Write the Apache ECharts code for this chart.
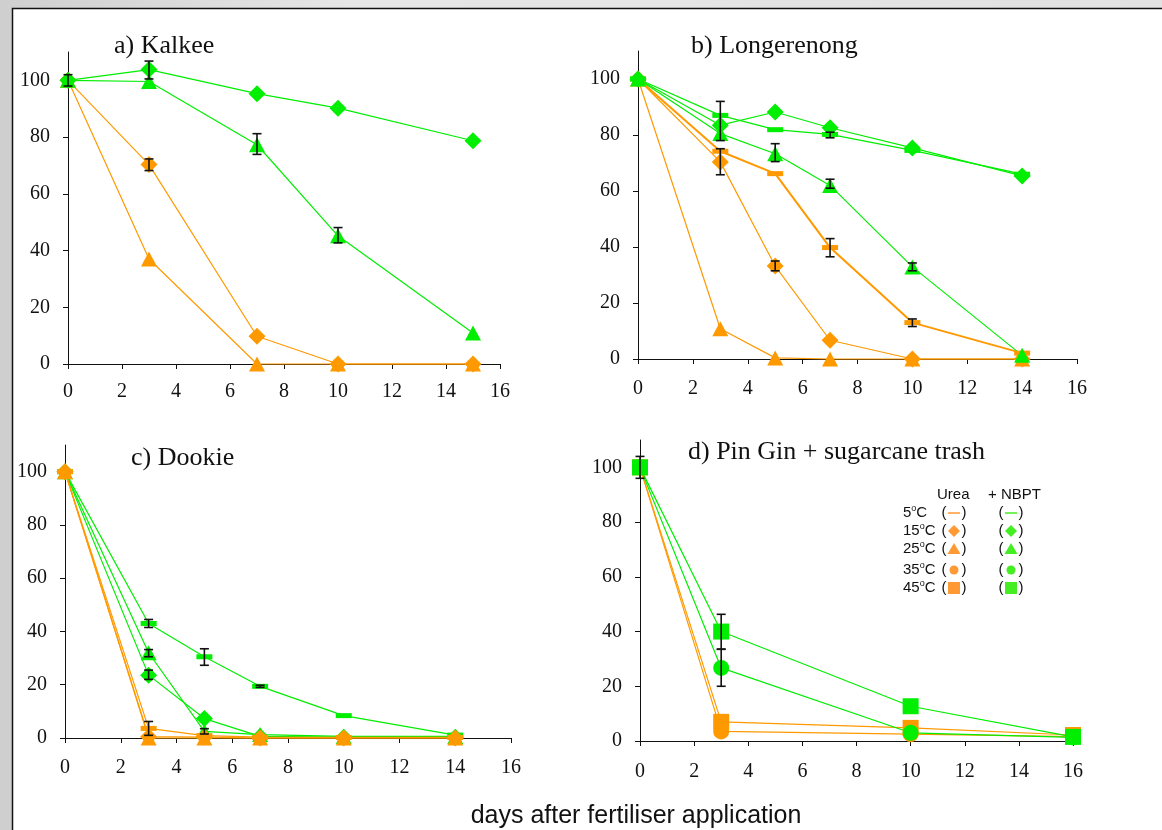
<!DOCTYPE html>
<html>
<head>
<meta charset="utf-8">
<script src="https://cdn.jsdelivr.net/npm/echarts@6/dist/echarts.min.js"></script>
<style>html,body{margin:0;padding:0;background:#ddd;}#c{width:1162px;height:830px;}</style>
</head>
<body>
<div id="c"></div>
<script>
// ---------- data ----------
const xTicks = [0, 2, 4, 6, 8, 10, 12, 14, 16];
const yTicks = [0, 20, 40, 60, 80, 100];

const panelTitles = ['a) Kalkee', 'b) Longerenong', 'c) Dookie', 'd) Pin Gin + sugarcane trash'];
const xAxisTitle = 'days after fertiliser application';

// a) Kalkee
const kalkeeDays = [0, 3, 7, 10, 15];
const kalkeeUrea15 = [100, 70.3, 9.8, 0, 0];
const kalkeeUrea25 = [100, 37, 0, 0, 0];
const kalkeeNbpt15 = [100, 103.8, 95.3, 90.2, 78.7];
const kalkeeNbpt25 = [100, 99.6, 77.3, 45.2, 10.9];
const kalkeeErrors = [[0, 98, 102], [3, 100.5, 106.8], [3, 68.2, 72.3], [7, 73.9, 81.2], [10, 42.7, 48.1]];

// b) Longerenong
const longDays = [0, 3, 5, 7, 10, 14];
const longUrea5 = [100, 74.2, 66.2, 39.8, 13, 2.1];
const longUrea15 = [100, 70.4, 33.2, 6.7, 0, 0];
const longUrea25 = [100, 10.8, 0.4, 0, 0, 0];
const longNbpt5 = [100, 87, 81.9, 80.2, 74.5, 66];
const longNbpt15 = [100, 83.5, 88.2, 82.6, 75.4, 65.4];
const longNbpt25 = [100, 80.5, 73.3, 62, 32.9, 1.3];
const longErrors = [[3, 78, 92], [3, 65.8, 75.1], [5, 70.5, 76.9], [5, 31.5, 35], [7, 79, 81], [7, 61, 64.2], [7, 36.5, 43], [10, 31.5, 34.3], [10, 11.6, 14.3]];

// c) Dookie
const dookieDays = [0, 3, 5, 7, 10, 14];
const dookieUrea5 = [100, 3.6, 0.9, 0.3, 0.2, 0.2];
const dookieUrea15 = [100, 0.5, 0.3, 0, 0, 0];
const dookieUrea25 = [100, 0, 0, 0, 0, 0];
const dookieNbpt5 = [100, 43, 30.5, 19.4, 8.4, 1.1];
const dookieNbpt15 = [100, 23.6, 7.3, 0.6, 0.3, 0.3];
const dookieNbpt25 = [100, 32, 2.5, 1.3, 0.6, 0.6];
const dookieErrors = [[3, 41.5, 44.5], [3, 30.5, 33.2], [3, 22, 25.5], [3, 1, 6.2], [5, 27.3, 33.5], [5, 1.5, 3.5], [7, 19, 19.8]];

// d) Pin Gin + sugarcane trash
const pinDays = [0, 3, 10, 16];
const pinUrea35 = [100, 3.5, 2.5, 1.6];
const pinUrea45 = [100, 7, 4.8, 2.2];
const pinNbpt35 = [100, 26.7, 3, 1.3];
const pinNbpt45 = [100, 40, 12.7, 1.5];
const pinErrors = [[0, 96, 104], [3, 33.6, 46.3], [3, 20, 33.5]];

// legend
const legendHeaders = ['Urea', '+ NBPT'];
const legendTemps = ['5', '15', '25', '35', '45'];
const legendSymbols = ['line', 'diamond', 'triangle', 'circle', 'square'];

// ---------- styling ----------
const ORANGE = '#ff9900';
const GREEN = '#00ee00';
const ORANGE_L = '#ff9933';
const GREEN_L = '#44ee22';
const SERIF = '"Liberation Serif", "Times New Roman", serif';
const SANS = '"Liberation Sans", Arial, sans-serif';

const grids = [
  { left: 68, top: 52, width: 432, height: 312 },
  { left: 638, top: 51, width: 439, height: 308 },
  { left: 65, top: 445, width: 446, height: 293 },
  { left: 640, top: 440, width: 433, height: 301 }
];
const xLabelMargins = [18, 20, 20, 21];

const symbolDefs = {
  dash: { symbol: 'rect', size: [16, 5] },
  diamond: { symbol: 'diamond', size: [17, 17] },
  triangle: { symbol: 'triangle', size: [16, 15] },
  circle: { symbol: 'circle', size: 16 },
  square: { symbol: 'rect', size: 16 }
};

function lineSeries(g, days, values, color, sym, width) {
  const s = symbolDefs[sym];
  return {
    type: 'line', xAxisIndex: g, yAxisIndex: g,
    data: days.map((d, i) => [d, values[i]]),
    symbol: s.symbol, symbolSize: s.size, showSymbol: true,
    lineStyle: { color: color, width: width || 1.2 },
    itemStyle: { color: color },
    clip: false, animation: false, z: 3,
    emphasis: { disabled: true }
  };
}

function errorSeries(g, errs) {
  return {
    type: 'custom', xAxisIndex: g, yAxisIndex: g,
    data: errs, encode: { x: 0, y: [1, 2] }, z: 4, animation: false, clip: false,
    renderItem: function (params, api) {
      const x = api.value(0), lo = api.value(1), hi = api.value(2);
      const pLo = api.coord([x, lo]), pHi = api.coord([x, hi]);
      const w = 4.5;
      const st = { stroke: '#111', lineWidth: 1.6 };
      return {
        type: 'group', children: [
          { type: 'line', shape: { x1: pLo[0], y1: pLo[1], x2: pHi[0], y2: pHi[1] }, style: st },
          { type: 'line', shape: { x1: pLo[0] - w, y1: pLo[1], x2: pLo[0] + w, y2: pLo[1] }, style: st },
          { type: 'line', shape: { x1: pHi[0] - w, y1: pHi[1], x2: pHi[0] + w, y2: pHi[1] }, style: st }
        ]
      };
    }
  };
}

const series = [
  lineSeries(0, kalkeeDays, kalkeeUrea25, ORANGE, 'triangle'),
  lineSeries(0, kalkeeDays, kalkeeUrea15, ORANGE, 'diamond'),
  lineSeries(0, kalkeeDays, kalkeeNbpt25, GREEN, 'triangle'),
  lineSeries(0, kalkeeDays, kalkeeNbpt15, GREEN, 'diamond'),
  errorSeries(0, kalkeeErrors),

  lineSeries(1, longDays, longUrea25, ORANGE, 'triangle'),
  lineSeries(1, longDays, longUrea15, ORANGE, 'diamond'),
  lineSeries(1, longDays, longUrea5, ORANGE, 'dash', 2),
  lineSeries(1, longDays, longNbpt25, GREEN, 'triangle'),
  lineSeries(1, longDays, longNbpt5, GREEN, 'dash'),
  lineSeries(1, longDays, longNbpt15, GREEN, 'diamond'),
  errorSeries(1, longErrors),

  lineSeries(2, dookieDays, dookieNbpt25, GREEN, 'triangle'),
  lineSeries(2, dookieDays, dookieNbpt15, GREEN, 'diamond'),
  lineSeries(2, dookieDays, dookieNbpt5, GREEN, 'dash'),
  lineSeries(2, dookieDays, dookieUrea15, ORANGE, 'diamond'),
  lineSeries(2, dookieDays, dookieUrea25, ORANGE, 'triangle'),
  lineSeries(2, dookieDays, dookieUrea5, ORANGE, 'dash'),
  errorSeries(2, dookieErrors),

  lineSeries(3, pinDays, pinUrea35, ORANGE, 'circle'),
  lineSeries(3, pinDays, pinUrea45, ORANGE, 'square'),
  lineSeries(3, pinDays, pinNbpt35, GREEN, 'circle'),
  lineSeries(3, pinDays, pinNbpt45, GREEN, 'square'),
  errorSeries(3, pinErrors)
];

const xAxes = grids.map((g, i) => ({
  type: 'value', gridIndex: i, min: 0, max: 16, interval: 2,
  axisLine: { show: true, onZero: false, lineStyle: { color: '#111', width: 1 } },
  axisTick: { show: true, length: 5, lineStyle: { color: '#111' }, customValues: xTicks },
  axisLabel: { fontFamily: SERIF, fontSize: 20, color: '#111', margin: xLabelMargins[i], customValues: xTicks },
  splitLine: { show: false }
}));
const yAxes = grids.map((g, i) => ({
  type: 'value', gridIndex: i, min: 0, max: 110, interval: 10,
  axisLine: { show: true, onZero: false, lineStyle: { color: '#111', width: 1 } },
  axisTick: { show: true, length: 5, lineStyle: { color: '#111' }, customValues: yTicks },
  axisLabel: { fontFamily: SERIF, fontSize: 20, color: '#111', margin: 18, customValues: yTicks },
  splitLine: { show: false }
}));

const titlePos = [[114, 33], [691, 33], [131, 445], [688, 439]];
const titles = panelTitles.map((t, i) => ({
  text: t, left: titlePos[i][0], top: titlePos[i][1], padding: 0,
  textStyle: { fontFamily: SERIF, fontSize: 26, fontWeight: 'normal', color: '#111' }
}));

// ---------- graphics: frame, axis title, legend ----------
const graphics = [
  { type: 'rect', z: -10, silent: true, shape: { x: 0, y: 0, width: 1162, height: 830 },
    style: { fill: new echarts.graphic.LinearGradient(0, 0, 1, 0, [
      { offset: 0, color: '#cfcfcf' }, { offset: 0.3, color: '#e6e6e6' }, { offset: 1, color: '#e2e2e2' }]) } },
  { type: 'rect', z: -9, silent: true, shape: { x: 12.5, y: 8.5, width: 1160, height: 830 },
    style: { fill: '#ffffff', stroke: '#111', lineWidth: 1.5 } },
  { type: 'text', z: 10, x: 636, y: 816, silent: true,
    style: { text: xAxisTitle, font: '25px ' + SANS, fill: '#111', align: 'center', verticalAlign: 'middle' } }
];

const legRowY = [513, 531, 549, 570, 588];
const legLabelX = 903;
const legCols = [{ header: 937, mark: 954, color: ORANGE_L }, { header: 988, mark: 1011, color: GREEN_L }];
legendHeaders.forEach((h, ci) => {
  graphics.push({ type: 'text', z: 10, x: legCols[ci].header, y: 495, silent: true,
    style: { text: h, font: '15px ' + SANS, fill: '#111', verticalAlign: 'middle' } });
});
function legendMark(kind, cx, cy, color) {
  if (kind === 'line') return { type: 'line', shape: { x1: cx - 6, y1: cy, x2: cx + 6, y2: cy }, style: { stroke: color, lineWidth: 1.5 } };
  if (kind === 'diamond') return { type: 'polygon', shape: { points: [[cx, cy - 6], [cx + 6, cy], [cx, cy + 6], [cx - 6, cy]] }, style: { fill: color } };
  if (kind === 'triangle') return { type: 'polygon', shape: { points: [[cx, cy - 6], [cx + 6.5, cy + 5], [cx - 6.5, cy + 5]] }, style: { fill: color } };
  if (kind === 'circle') return { type: 'circle', shape: { cx: cx, cy: cy, r: 4.5 }, style: { fill: color } };
  return { type: 'rect', shape: { x: cx - 6, y: cy - 6, width: 12, height: 12 }, style: { fill: color } };
}
legendTemps.forEach((t, ri) => {
  const y = legRowY[ri];
  graphics.push({ type: 'text', z: 10, x: legLabelX, y: y, silent: true,
    style: {
      text: '{n|' + t + '}{s|o}{n|C}',
      verticalAlign: 'middle',
      rich: {
        n: { font: '15px ' + SANS, fill: '#111' },
        s: { font: '9px ' + SANS, fill: '#111', verticalAlign: 'top', lineHeight: 17 }
      }
    } });
  legCols.forEach(col => {
    graphics.push({ type: 'text', z: 10, x: col.mark - 10, y: y, silent: true,
      style: { text: '(', font: '15px ' + SANS, fill: '#111', verticalAlign: 'middle', align: 'center' } });
    graphics.push({ type: 'text', z: 10, x: col.mark + 10, y: y, silent: true,
      style: { text: ')', font: '15px ' + SANS, fill: '#111', verticalAlign: 'middle', align: 'center' } });
    const m = legendMark(legendSymbols[ri], col.mark, y, col.color);
    m.z = 10; m.silent = true;
    graphics.push(m);
  });
});

const chart = echarts.init(document.getElementById('c'), null, { renderer: 'canvas' });
chart.setOption({
  animation: false,
  backgroundColor: '#e0e0e0',
  title: titles,
  grid: grids,
  xAxis: xAxes,
  yAxis: yAxes,
  series: series,
  graphic: graphics
});
</script>
</body>
</html>
